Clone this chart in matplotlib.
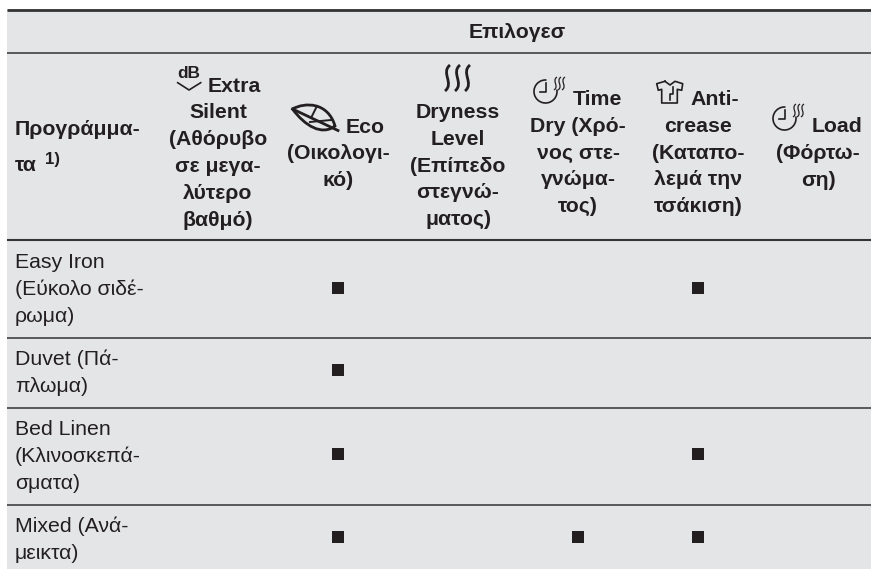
import matplotlib
matplotlib.use("Agg")
import matplotlib.pyplot as plt
from matplotlib.path import Path
from matplotlib.patches import PathPatch, Arc

plt.rcParams['font.family'] = ['Liberation Sans', 'DejaVu Sans']

programmes = [["Easy Iron", "(Εύκολο σιδέ-", "ρωμα)"],
              ["Duvet (Πά-", "πλωμα)"],
              ["Bed Linen", "(Κλινοσκεπά-", "σματα)"],
              ["Mixed (Ανά-", "μεικτα)"]]
options = [["Extra", "Silent", "(Αθόρυβο", "σε μεγα-", "λύτερο", "βαθμό)"],
           ["Eco", "(Οικολογι-", "κό)"],
           ["Dryness", "Level", "(Επίπεδο", "στεγνώ-", "ματος)"],
           ["Time", "Dry (Χρό-", "νος στε-", "γνώμα-", "τος)"],
           ["Anti-", "crease", "(Καταπο-", "λεμά την", "τσάκιση)"],
           ["Load", "(Φόρτω-", "ση)"]]
# one row per programme, one column per option
marks = [[0, 1, 0, 0, 1, 0],
         [0, 1, 0, 0, 0, 0],
         [0, 1, 0, 0, 1, 0],
         [0, 1, 0, 1, 1, 0]]

BG = "#e4e5e7"
INK = "#231f20"
FS = 15.3

fig = plt.figure(figsize=(8.71, 5.69), dpi=100)
ax = fig.add_axes([0, 0, 1, 1])
ax.set_xlim(0, 871)
ax.set_ylim(569, 0)
ax.axis("off")

ax.fill_between([7, 871], 9, 569, color=BG, lw=0)
for y, lw in [(9.5, 2.0), (53, 1.1), (240, 1.5), (337.5, 1.1), (407.5, 1.1), (504.5, 1.1)]:
    ax.plot([7, 871], [y, y], color="#333333", lw=lw, solid_capstyle="butt")

col_x = [218, 338, 458, 578, 698, 818]
first_x = [208, 346, None, 573, 690, 812]
first_y = [91.5, 132.5, 118, 105, 105, 132]
row_y = [288, 370, 454, 537]
prog_y = [268, 365, 435, 532]
PITCH = 26.8


def steam(x0, y0, h, w, n=3, gap=10, lw=2.0):
    for i in range(n):
        x = x0 + i * gap
        verts = [(x + w, y0), (x - w * 0.9, y0 + h * 0.3), (x + w * 1.9, y0 + h * 0.7), (x, y0 + h)]
        ax.add_patch(PathPatch(Path(verts, [Path.MOVETO, Path.CURVE4, Path.CURVE4, Path.CURVE4]),
                               fc="none", ec=INK, lw=lw))


def clock(cx, cy):
    ax.add_patch(Arc((cx, cy), 23, 23, theta1=-10, theta2=275, color=INK, lw=1.2))
    ax.plot([cx, cx, cx - 5.5], [cy - 8.5, cy, cy], color=INK, lw=1.2)
    steam(cx + 8.5, cy - 14.5, 13, 3, gap=4, lw=0.9)


ax.text(517.5, 38, "Επιλογεσ", ha="center", fontsize=FS, fontweight="bold", color=INK)
ax.text(15, 135, "Προγράμμα-", fontsize=FS, fontweight="bold", color=INK)
ax.text(15, 171, "τα", fontsize=FS, fontweight="bold", color=INK)
ax.text(45, 164, "1)", fontsize=12.2, fontweight="bold", color=INK)

for i, lines in enumerate(options):
    for j, s in enumerate(lines):
        y = first_y[i] + j * PITCH
        if j == 0 and first_x[i] is not None:
            ax.text(first_x[i], y, s, fontsize=FS, fontweight="bold", color=INK)
        else:
            ax.text(col_x[i], y, s, ha="center", fontsize=FS, fontweight="bold", color=INK)

for lines, y0 in zip(programmes, prog_y):
    for j, s in enumerate(lines):
        ax.text(15, y0 + j * PITCH, s, fontsize=FS, color=INK)

for r, row in enumerate(marks):
    for c, v in enumerate(row):
        if v:
            ax.plot(col_x[c], row_y[r], marker="s", ms=8.6, color="#231f20", mew=0)

# dB icon
ax.text(189, 78, "dB", ha="center", fontsize=12.4, fontweight="bold", color=INK)
ax.plot([177.7, 189, 200.7], [82.7, 90, 82.7], color=INK, lw=1.2)

# leaf icon
leaf = [(292.5, 109), (305, 102), (328, 102), (335, 126),
        (322, 136), (305, 126), (292.5, 109)]
ax.add_patch(PathPatch(Path(leaf, [Path.MOVETO] + [Path.CURVE4] * 6), fc="none", ec=INK, lw=2.0))
ax.plot([292.5, 338], [109, 130.5], color=INK, lw=2.0)
ax.plot([311, 317], [118, 106], color=INK, lw=1.4)
ax.plot([310, 331], [122, 120], color=INK, lw=1.4)

# steam icon
steam(445, 65, 26, 5)

# clocks
clock(545.5, 91.5)
clock(784.5, 118.5)

# shirt icon
shirt = [(665, 81.3), (670, 85), (675, 81.3), (682.7, 83.7), (681.7, 90.3), (677.3, 89.3),
         (677.3, 103), (661.7, 103), (661.7, 89.3), (658.3, 90.3), (656.7, 83.7), (665, 81.3)]
ax.plot(*zip(*shirt), color=INK, lw=1.2)
ax.plot([673.3, 673.3, 670, 670], [87, 94, 94, 100], color=INK, lw=1.2)

plt.savefig("out.png", dpi=100)
